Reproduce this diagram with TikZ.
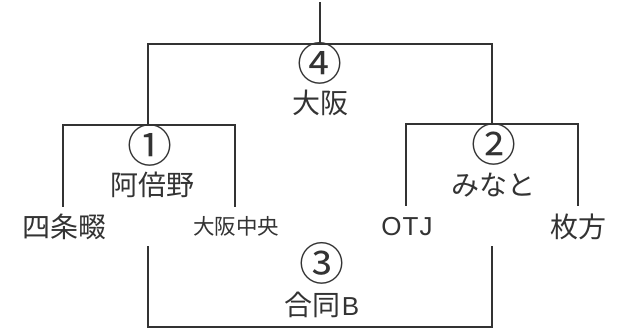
\documentclass[tikz,border=0pt]{standalone}
\usepackage{fontspec}
\setmainfont{Noto Sans CJK JP}
\newfontfamily\lat{Liberation Sans}
\definecolor{ink}{HTML}{333333}
\begin{document}
\begin{tikzpicture}[x=1pt,y=-1pt,
  bracket/.style={draw=ink,line width=1.8pt,line cap=rect},
  team/.style={text=ink,inner sep=0pt,font=\fontsize{28}{30}\selectfont},
  smallteam/.style={text=ink,inner sep=0pt,font=\fontsize{21.5}{24}\selectfont},
  latin/.style={text=ink,inner sep=0pt,font=\lat\fontsize{26}{28}\selectfont},
  num/.style={text=ink,inner sep=0pt,font=\fontsize{45}{47}\selectfont}]
\useasboundingbox (0,0) rectangle (619,330);
% bracket coordinates
\coordinate (top) at (320,3);
\coordinate (topmid) at (320,44);
\coordinate (tl) at (148,44);
\coordinate (tr) at (492,44);
\coordinate (l1) at (148,125);
\coordinate (l1a) at (63,125);
\coordinate (l1b) at (235,125);
\coordinate (la) at (63,206);
\coordinate (lb) at (235,206);
\coordinate (r1) at (492,124);
\coordinate (r1a) at (406,124);
\coordinate (r1b) at (578,124);
\coordinate (ra) at (406,205);
\coordinate (rb) at (578,205);
\coordinate (b1) at (148,247);
\coordinate (b1d) at (148,327);
\coordinate (b2) at (492,247);
\coordinate (b2d) at (492,327);
% lines
\draw[bracket] (top) -- (topmid);
\draw[bracket] (l1) -- (tl) -- (tr) -- (r1);
\draw[bracket] (la) -- (l1a) -- (l1b) -- (lb);
\draw[bracket] (ra) -- (r1a) -- (r1b) -- (rb);
\draw[bracket] (b1) -- (b1d) -- (b2d) -- (b2);
% labels
\node[num] (n4) at (320,63) {④};
\node[team] (w4) at (320,103) {大阪};
\node[num] (n1) at (150,145) {①};
\node[team] (w1) at (152,185) {阿倍野};
\node[num] (n2) at (494,144) {②};
\node[team] (w2) at (493,185) {みなと};
\node[team] (t1) at (65,227) {四条畷};
\node[smallteam] (t2) at (236,226) {大阪中央};
\node[latin] (t3) at (407,227) {O\kern1pt T\kern1pt J};
\node[team] (t4) at (578,227) {枚方};
\node[num] (n3) at (322,263) {③};
\node[team] (w3) at (322,305) {合同\kern1pt{\lat\fontsize{26}{28}\selectfont B}};
\end{tikzpicture}
\end{document}
